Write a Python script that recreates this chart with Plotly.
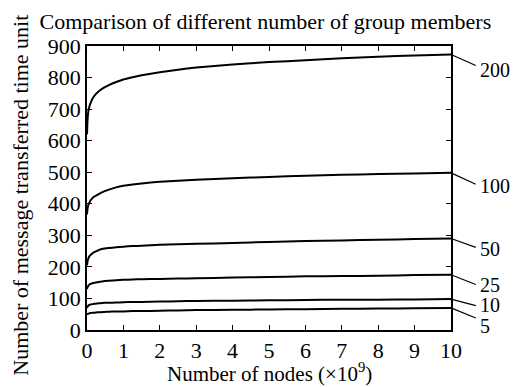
import plotly.graph_objects as go

x_nodes = [0, 0.01, 0.02, 0.04, 0.07, 0.1, 0.15, 0.2, 0.28, 0.36, 0.48, 0.6, 0.8, 1, 1.25, 1.5, 2, 2.5, 3, 4, 5, 6, 7, 8, 9, 10]
series_names = ["200", "100", "50", "25", "10", "5"]
y_200 = [620, 655, 675, 695, 710, 720, 733, 742, 752, 760, 769, 776, 786, 794, 801, 807, 817, 825, 832, 841, 849, 855, 861, 866, 870, 873]
y_100 = [366, 380, 388, 397, 405, 411, 418, 423, 428, 433, 440, 445, 452, 457, 461, 464, 470, 473, 476, 481, 485, 489, 492, 494, 496, 498]
y_50 = [205, 214, 220, 228, 234, 238, 243, 247, 251, 255, 258, 260, 262, 264, 266, 267, 270, 272, 273, 276, 279, 282, 284, 286, 288, 290]
y_25 = [130, 134, 137, 141, 144, 146, 148, 150, 151, 153, 155, 156, 158, 159, 160, 161, 162, 163, 164, 166, 168, 170, 171, 172, 174, 175]
y_10 = [70, 73, 75, 78, 80, 81, 82, 83, 84, 85, 86, 86, 87, 88, 89, 89, 90, 91, 92, 93, 94, 95, 96, 96, 97, 98]
y_5 = [48, 50, 51, 52, 53, 54, 55, 55, 56, 56, 57, 58, 59, 59, 60, 60, 61, 62, 63, 64, 65, 66, 67, 68, 69, 70]
series_values = [y_200, y_100, y_50, y_25, y_10, y_5]

x_ticks = list(range(0, 11))
y_ticks = list(range(0, 901, 100))

# label layout (data y of label text and leader-line end)
label_text_y = [824, 456, 258, 144, 78, 12]
label_line_y = [838, 462, 262, 144, 77, 38]

FONT = "Liberation Serif, Times New Roman, serif"
FS = 22
LFS = 20

fig = go.Figure()
for name, ys in zip(series_names, series_values):
    fig.add_trace(go.Scatter(x=x_nodes, y=ys, mode="lines", name=name,
                             line=dict(color="black", width=2, shape="spline", smoothing=0.3),
                             showlegend=False, hoverinfo="skip"))

for name, ys, ty, ly in zip(series_names, series_values, label_text_y, label_line_y):
    fig.add_shape(type="line", xref="paper", yref="y", x0=1.0, x1=1.068,
                  y0=ys[-1], y1=ly, line=dict(color="black", width=1.2))
    fig.add_annotation(xref="paper", yref="y", x=1.076, y=ty, text=name,
                       showarrow=False, xanchor="left", yanchor="middle",
                       borderpad=0, font=dict(family=FONT, size=LFS, color="black"))

# axis titles as annotations for exact placement
fig.add_annotation(xref="paper", yref="paper", x=0.5, y=-0.1, yanchor="top",
                   text="Number of nodes (×10<sup>9</sup>)", showarrow=False,
                   borderpad=0, font=dict(family=FONT, size=21, color="black"))
fig.add_annotation(xref="paper", yref="paper", x=-0.185, y=0.475, xanchor="center",
                   textangle=-90, text="Number of message transferred time unit",
                   showarrow=False, font=dict(family=FONT, size=FS, color="black"))

# page body has an 8px margin, so the figure is 8px smaller than the window
fig.update_layout(
    width=516, height=379,
    margin=dict(l=79, r=73, t=38, b=57, autoexpand=False),
    paper_bgcolor="white", plot_bgcolor="white",
    font=dict(family=FONT, size=FS, color="black"),
    title=dict(text="Comparison of different number of group members",
               x=0.49, xref="paper", xanchor="center", y=0.965, yanchor="middle",
               font=dict(family=FONT, size=FS, color="black")),
)
fig.update_xaxes(range=[0, 10], tickvals=x_ticks, ticks="inside", ticklen=5,
                 tickwidth=1.2, tickcolor="black", showline=True, linecolor="black",
                 linewidth=1.5, mirror="ticks", showgrid=False, zeroline=False,
                 automargin=False, tickfont=dict(family=FONT, size=FS))
fig.update_yaxes(range=[0, 900], tickvals=y_ticks, ticks="inside", ticklen=5,
                 tickwidth=1.2, tickcolor="black", showline=True, linecolor="black",
                 linewidth=1.5, mirror="ticks", showgrid=False, zeroline=False,
                 automargin=False, tickfont=dict(family=FONT, size=FS))

fig.write_html("out.html")
